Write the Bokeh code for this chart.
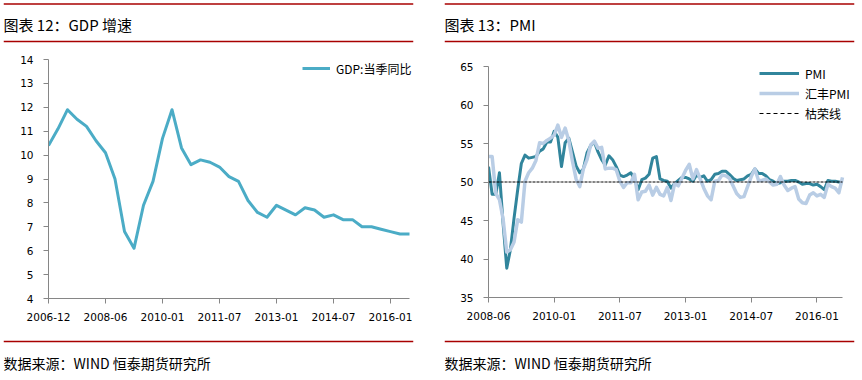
from bokeh.plotting import figure
from bokeh.models import Range1d, FixedTicker, Span, Label, Legend, LegendItem, ColumnDataSource
from bokeh.layouts import row, column
from bokeh.embed import file_html
from bokeh.resources import INLINE

# ---------------- data ----------------
gdp_tick_pos = [0, 6, 12, 18, 24, 30, 36]
gdp_tick_labels = ["2006-12", "2008-06", "2010-01", "2011-07", "2013-01", "2014-07", "2016-01"]
# quarterly, 2006Q4 .. 2016Q2
gdp_yoy = [10.4, 11.1, 11.9, 11.5, 11.2, 10.6, 10.1, 9.0, 6.8, 6.1, 7.9, 8.9,
           10.7, 11.9, 10.3, 9.6, 9.8, 9.7, 9.5, 9.1, 8.9, 8.1, 7.6, 7.4,
           7.9, 7.7, 7.5, 7.8, 7.7, 7.4, 7.5, 7.3, 7.3, 7.0, 7.0, 6.9,
           6.8, 6.7, 6.7]

pmi_tick_pos = [0, 18, 36, 54, 72, 90]
pmi_tick_labels = ["2008-06", "2010-01", "2011-07", "2013-01", "2014-07", "2016-01"]
# monthly, 2008-06 .. 2016-07
pmi_official = [52.0, 48.4, 48.4, 51.2, 44.6, 38.8, 41.2,
                45.3, 49.0, 52.4, 53.5, 53.1, 53.2, 53.3, 54.0, 54.3, 55.2, 55.2, 56.6,
                55.8, 52.0, 55.1, 55.7, 53.9, 52.1, 51.2, 51.7, 53.8, 54.7, 55.2, 53.9,
                52.9, 52.2, 53.4, 52.9, 52.0, 50.9, 50.7, 50.9, 51.2, 50.4, 49.0, 50.3,
                50.5, 51.0, 53.1, 53.3, 50.4, 50.2, 50.1, 49.2, 49.8, 50.2, 50.6, 50.6,
                50.4, 50.1, 50.9, 50.6, 50.8, 50.1, 50.3, 51.0, 51.1, 51.4, 51.4, 51.0,
                50.5, 50.2, 50.3, 50.4, 50.8, 51.0, 51.7, 51.1, 51.1, 50.8, 50.3, 50.1,
                49.8, 49.9, 50.1, 50.1, 50.2, 50.2, 50.0, 49.7, 49.8, 49.8, 49.6, 49.7,
                49.4, 49.0, 50.2, 50.1, 50.1, 50.0, 49.9]
pmi_hsbc = [53.3, 53.3, 48.5, 47.7, 45.2, 40.9, 41.2,
            42.2, 45.1, 44.8, 50.1, 51.2, 51.8, 52.8, 55.1, 55.0, 55.4, 55.7, 56.1,
            57.4, 55.8, 57.0, 55.4, 52.7, 50.4, 49.4, 51.7, 52.9, 54.8, 55.3, 54.4,
            54.5, 51.7, 51.8, 51.8, 51.6, 50.1, 49.3, 49.9, 49.9, 51.0, 47.7, 48.7,
            48.8, 49.6, 48.3, 49.3, 48.4, 48.2, 49.3, 47.6, 49.8, 49.5, 50.5, 51.5,
            52.3, 50.4, 51.6, 50.4, 49.2, 48.2, 47.7, 50.1, 50.2, 50.9, 50.8, 50.5,
            49.5, 48.5, 48.0, 48.1, 49.4, 50.7, 51.7, 50.2, 50.2, 50.4, 50.0, 49.6,
            49.7, 50.7, 49.6, 48.9, 49.2, 49.4, 47.8, 47.3, 47.2, 48.3, 48.6, 48.2,
            48.4, 48.0, 49.7, 49.4, 49.2, 48.6, 50.6]
boom_bust = 50

# ---------------- styles ----------------
RED = "#A80000"
AXIS_GREY = "#868686"
GDP_COLOR = "#4BACC6"
PMI_COLOR = "#31859C"
HSBC_COLOR = "#B9CDE5"
CJK = "Noto Sans CJK SC"
TICK_FONT = "DejaVu Sans"
COL_W = 429


def strip(x0, x1, y_top, y_bot, left, right):
    p = figure(width=COL_W, height=int(y_bot - y_top),
               x_range=Range1d(x0, x1), y_range=Range1d(y_bot, y_top),
               x_axis_type=None, y_axis_type=None,
               toolbar_location=None, output_backend="svg",
               min_border_left=left, min_border_right=right,
               min_border_top=0, min_border_bottom=0, frame_align=False)
    p.outline_line_color = None
    p.background_fill_color = "white"
    p.border_fill_color = "white"
    return p


def header(x0, x1, left, right, title):
    p = strip(x0, x1, 0, 46, left, right)
    p.add_layout(Span(location=3.5, dimension="width", line_color=RED, line_width=1.3))
    p.add_layout(Span(location=41, dimension="width", line_color=RED, line_width=1.3))
    p.add_layout(Label(x=x0, y=24, text=title, text_font=CJK, text_font_size="15px",
                       text_baseline="middle", text_color="#000000"))
    return p


def footer(x0, x1, left, right, text):
    p = strip(x0, x1, 330, 372, left, right)
    p.add_layout(Span(location=341, dimension="width", line_color=RED, line_width=1.3))
    p.add_layout(Label(x=x0, y=362, text=text, text_font=CJK, text_font_size="14px",
                       text_baseline="middle", text_color="#000000"))
    return p


def style_axes(p):
    p.outline_line_color = None
    p.grid.visible = False
    p.background_fill_color = "white"
    p.border_fill_color = "white"
    for ax in p.axis:
        ax.axis_line_color = AXIS_GREY
        ax.axis_line_width = 1
        ax.major_tick_line_color = AXIS_GREY
        ax.minor_tick_line_color = None
        ax.major_tick_in = 0
        ax.major_tick_out = 5
        ax.major_label_text_font = TICK_FONT
        ax.major_label_text_font_size = "10.5px"
        ax.major_label_text_color = "#000000"
    p.yaxis.major_label_standoff = 10
    p.xaxis.major_label_standoff = 9


# ---------------- left: GDP ----------------
# plot frame is a little wider than the drawn x axis, so the legend text fits
L_BORDER_L, L_BORDER_R, L_AXIS_PX = 48, 13, 361
L_FRAME_W = COL_W - L_BORDER_L - L_BORDER_R
nq = len(gdp_yoy)
src_gdp = ColumnDataSource(dict(x=list(range(nq)), y=gdp_yoy))
pl = figure(width=COL_W, height=284,
            x_range=Range1d(0, (nq - 1) * L_FRAME_W / L_AXIS_PX), y_range=Range1d(4, 14),
            toolbar_location=None, output_backend="svg", frame_align=False,
            min_border_left=L_BORDER_L, min_border_right=L_BORDER_R,
            min_border_top=13, min_border_bottom=32)
r_gdp = pl.line("x", "y", source=src_gdp, line_color=GDP_COLOR, line_width=3, line_join="round")
style_axes(pl)
pl.xaxis.bounds = (0, nq - 1)
pl.yaxis.ticker = FixedTicker(ticks=list(range(4, 15)))
pl.xaxis.ticker = FixedTicker(ticks=gdp_tick_pos)
pl.xaxis.major_label_overrides = dict(zip(gdp_tick_pos, gdp_tick_labels))
leg_l = Legend(items=[LegendItem(label="GDP:当季同比", renderers=[r_gdp])],
               location=(254, 220), glyph_width=28, glyph_height=20, label_height=20,
               label_standoff=6, padding=0, margin=0, spacing=0,
               border_line_color=None, background_fill_alpha=0,
               label_text_font=CJK, label_text_font_size="12px", label_text_color="#000000")
pl.add_layout(leg_l)

# ---------------- right: PMI ----------------
R_BORDER_L, R_BORDER_R, R_AXIS_PX = 59, 2, 354
R_FRAME_W = COL_W - R_BORDER_L - R_BORDER_R
n = len(pmi_official)
src_pmi = ColumnDataSource(dict(x=list(range(n)), pmi=pmi_official, hsbc=pmi_hsbc,
                                bb=[boom_bust] * n))
pr = figure(width=COL_W, height=284,
            x_range=Range1d(0, (n - 1) * R_FRAME_W / R_AXIS_PX), y_range=Range1d(35, 65),
            toolbar_location=None, output_backend="svg", frame_align=False,
            min_border_left=R_BORDER_L, min_border_right=R_BORDER_R,
            min_border_top=20, min_border_bottom=33)
r_pmi = pr.line("x", "pmi", source=src_pmi, line_color=PMI_COLOR, line_width=3, line_join="round")
r_hsbc = pr.line("x", "hsbc", source=src_pmi, line_color=HSBC_COLOR, line_width=3.5, line_join="round")
pr.line("x", "bb", source=src_pmi, line_color="#000000", line_width=1, line_dash="3 1")
# legend-only sample for the boom/bust line (single point: draws nothing in the plot)
r_bb = pr.line(x=[0], y=[boom_bust], line_color="#000000", line_width=1, line_dash="4 3")
style_axes(pr)
pr.xaxis.bounds = (0, n - 1)
pr.yaxis.ticker = FixedTicker(ticks=list(range(35, 66, 5)))
pr.xaxis.ticker = FixedTicker(ticks=pmi_tick_pos)
pr.xaxis.major_label_overrides = dict(zip(pmi_tick_pos, pmi_tick_labels))
leg_r = Legend(items=[LegendItem(label="PMI", renderers=[r_pmi]),
                      LegendItem(label="汇丰PMI", renderers=[r_hsbc]),
                      LegendItem(label="枯荣线", renderers=[r_bb])],
               location=(271, 174), glyph_width=40, glyph_height=20, label_height=20,
               label_standoff=6, padding=0, margin=0, spacing=0,
               border_line_color=None, background_fill_alpha=0,
               label_text_font=CJK, label_text_font_size="12px", label_text_color="#000000")
pr.add_layout(leg_r)

# ---------------- layout ----------------
hl = header(3, 413, 3, 16, "图表 12：GDP 增速")
hr = header(444, 854, 15, 4, "图表 13：PMI")
fl = footer(3, 413, 3, 16, "数据来源：WIND 恒泰期货研究所")
fr = footer(444, 854, 15, 4, "数据来源：WIND 恒泰期货研究所")

layout = row(column(hl, pl, fl), column(hr, pr, fr))

open("out.html", "w").write(file_html(layout, INLINE))
